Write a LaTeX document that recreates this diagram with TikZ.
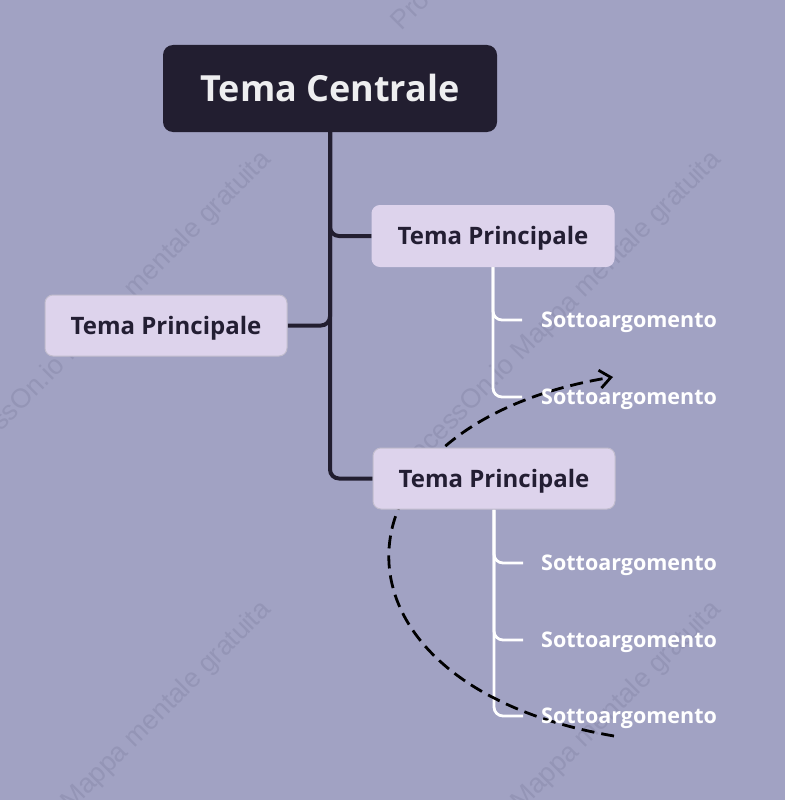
\documentclass[tikz,border=0pt]{standalone}
\usepackage{fontspec}
\setmainfont{Open Sans}
\newfontfamily\wmfont{Liberation Sans}
\usetikzlibrary{arrows.meta}
\pgfdeclarelayer{wmlayer}
\pgfdeclarelayer{linelayer}
\pgfsetlayers{wmlayer,linelayer,main}
\definecolor{bgc}{HTML}{A1A2C3}
\definecolor{cdark}{HTML}{221E30}
\definecolor{ctext}{HTML}{EEEEF0}
\definecolor{clight}{HTML}{DDD3EC}
\definecolor{cborder}{HTML}{C2BDCE}
\definecolor{ctopic}{HTML}{231E33}
\definecolor{cwm}{HTML}{9495B6}
\tikzset{
 central/.style={fill=cdark, rounded corners=10pt, minimum width=334pt, minimum height=87pt, text=ctext, font=\bfseries\fontsize{36}{40}\selectfont, inner sep=0, text height=25.7pt, text depth=0pt},
 topic/.style={fill=clight, draw=cborder, line width=1pt, rounded corners=8pt, minimum width=242pt, minimum height=61pt, text=ctopic, font=\bfseries\fontsize{24}{28}\selectfont, inner sep=0, text height=17.1pt, text depth=0pt},
 subtopic/.style={anchor=base west, inner sep=0, text=white, font=\bfseries\fontsize{21.5}{26}\selectfont},
 trunk/.style={draw=cdark, line width=4pt, rounded corners=9pt},
 twig/.style={draw=white, line width=2.8pt, rounded corners=9pt},
 relation/.style={draw=black, line width=2.8pt, dash pattern=on 13pt off 7pt, -{Straight Barb[length=11pt,width=18pt]}},
 wm/.style={rotate=45, anchor=base east, text=cwm, font=\wmfont\fontsize{27}{30}\selectfont, inner sep=0}
}
\begin{document}
\begin{tikzpicture}[x=1pt,y=-1pt]
\useasboundingbox (0,0) rectangle (785,800);
\begin{pgfonlayer}{wmlayer}
\clip (0,0) rectangle (785,800);
\fill[bgc] (0,0) rectangle (785,800);
\node[wm] (w1) at (272,161) {ProcessOn.io Mappa mentale gratuita};
\node[wm] (w2) at (722,161) {ProcessOn.io Mappa mentale gratuita};
\node[wm] (w3) at (272,611) {ProcessOn.io Mappa mentale gratuita};
\node[wm] (w4) at (722,611) {ProcessOn.io Mappa mentale gratuita};
\node[wm] (w5) at (722,-289) {ProcessOn.io Mappa mentale gratuita};
\end{pgfonlayer}
% nodes
\node[central] (c) at (330,88.5) {Tema Centrale};
\node[topic, draw=clight] (p1) at (493,236) {Tema Principale};
\node[topic] (p2) at (166,325.5) {Tema Principale};
\node[topic] (p3) at (494,478.5) {Tema Principale};
\node[subtopic] (s1) at (541,327) {Sottoargomento};
\node[subtopic] (s2) at (541,404) {Sottoargomento};
\node[subtopic] (s3) at (541,570) {Sottoargomento};
\node[subtopic] (s4) at (541,647) {Sottoargomento};
\node[subtopic] (s5) at (541,723) {Sottoargomento};
\coordinate (t1) at (522,320);
\coordinate (t2) at (522,397);
\coordinate (t3) at (523,563);
\coordinate (t4) at (523,640);
\coordinate (t5) at (523,716);
\coordinate (r0) at (614,736);
\coordinate (r1) at (613,377);
% connectors
\begin{pgfonlayer}{linelayer}
\draw[trunk] (c.south) |- (p1.west);
\draw[trunk] (c.south) |- (p2.east);
\draw[trunk] (c.south) |- (p3.west);
\draw[twig] (p1.south) |- (t1);
\draw[twig] (p1.south) |- (t2);
\draw[twig] (p3.south) |- (t3);
\draw[twig] (p3.south) |- (t4);
\draw[twig] (p3.south) |- (t5);
\draw[relation] (r0) .. controls (309,684) and (320,425) .. (r1);
\end{pgfonlayer}
\end{tikzpicture}
\end{document}
